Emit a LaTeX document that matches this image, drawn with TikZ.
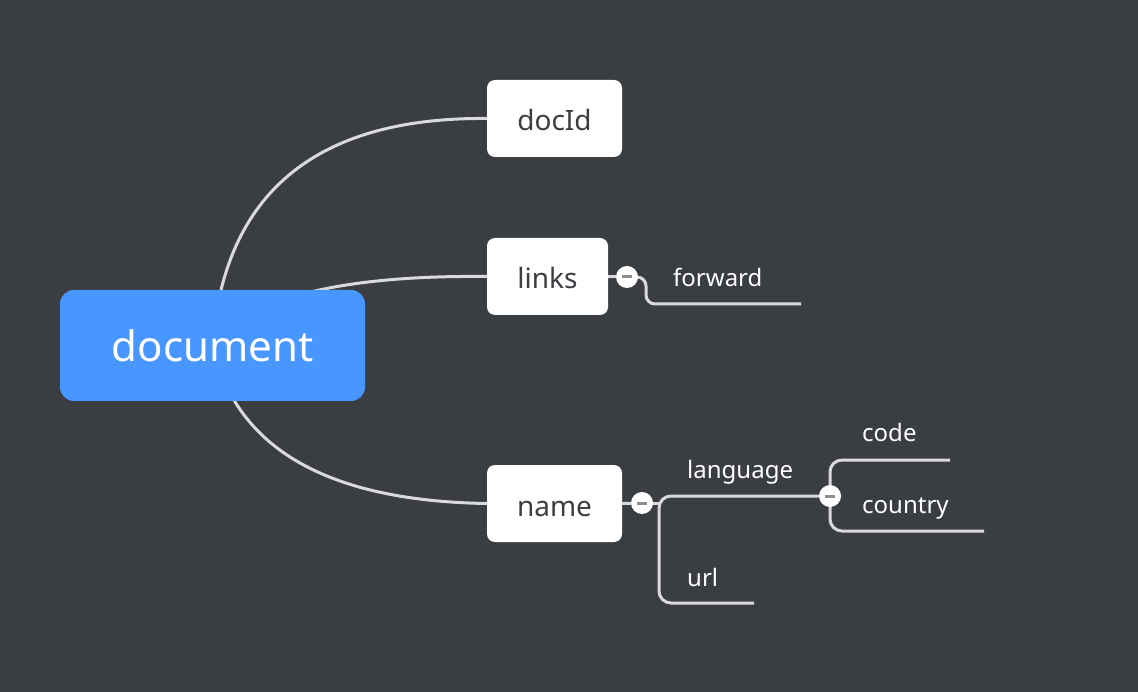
\documentclass[tikz,border=0pt]{standalone}
\usepackage{fontspec}
\setmainfont{Noto Sans}
\usepackage{tikz}
\usetikzlibrary{positioning}
\pgfdeclarelayer{back}
\pgfsetlayers{back,main}
\definecolor{canvas}{RGB}{58,61,66}
\definecolor{rootblue}{RGB}{72,150,255}
\definecolor{wirecol}{RGB}{218,218,218}
\definecolor{boxtext}{RGB}{59,62,67}
\definecolor{foldbar}{RGB}{140,140,140}

\begin{document}
\begin{tikzpicture}[x=1pt,y=-1pt,
    root/.style={fill=rootblue,rounded corners=14pt,minimum width=305pt,minimum height=111pt,
      inner sep=0pt,text height=33pt,text depth=0pt,text=white,font=\fontsize{42}{50}\selectfont},
    topic/.style={fill=white,rounded corners=8pt,minimum height=77pt,inner sep=0pt,
      text height=25pt,text depth=0pt,text=boxtext,font=\fontsize{28}{34}\selectfont},
    leaf/.style={anchor=base west,inner sep=0pt,text=white,font=\fontsize{24}{29}\selectfont},
    wire/.style={draw=wirecol,line width=3pt},
    fold/.style={circle,fill=white,minimum size=22pt,inner sep=0pt}]
    \useasboundingbox (0,0) rectangle (1138,692);
    % topics
    \node[root] (document) at (212.5,345.5) {document};
    \node[topic,minimum width=135pt] (docId) at (554.5,118.5) {docId};
    \node[topic,minimum width=121pt] (links) at (547.5,276.5) {links};
    \node[topic,minimum width=135pt] (name) at (554.5,503.5) {name};
    % folding markers
    \node[fold] (linksfold) at (627,277) {\color{foldbar}\rule[-1.5pt]{10pt}{3pt}};
    \node[fold] (namefold) at (642,503) {\color{foldbar}\rule[-1.5pt]{10pt}{3pt}};
    \node[fold] (langfold) at (830,496) {\color{foldbar}\rule[-1.5pt]{10pt}{3pt}};
    % sub topics
    \node[leaf] (forward) at (673,287) {forward};
    \node[leaf] (language) at (687,478) {language};
    \node[leaf] (url) at (687,586) {url};
    \node[leaf] (code) at (862,442) {code};
    \node[leaf] (country) at (862,513) {country};
    \coordinate (forwardend) at (801,304);
    \coordinate (namejoint) at (659,503);
    \coordinate (urlcorner) at (659,603);
    \coordinate (urlend) at (754,603);
    \coordinate (codeend) at (950,460);
    \coordinate (countryend) at (984,531);
    \begin{pgfonlayer}{back}
      \fill[canvas] (0,0) rectangle (1138,692);
      \draw[wire] (document.center) .. controls (224,193) and (316,117) .. (docId.west);
      \draw[wire] (document.center) .. controls (247,299) and (338,275) .. (links.west);
      \draw[wire] (document.center) .. controls (236,449) and (328,501) .. (name.west);
      \draw[wire] (links.east) -- (linksfold);
      \draw[wire,rounded corners=9pt] (linksfold.east) -- (646,277) |- (forwardend);
      \draw[wire] (name.east) -- (namefold);
      \draw[wire] (namefold) -- (namejoint);
      \draw[wire,rounded corners=12pt] (langfold.west) -| (urlcorner) -- (urlend);
      \draw[wire,rounded corners=12pt] (codeend) -| (langfold.center) |- (countryend);
    \end{pgfonlayer}
\end{tikzpicture}
\end{document}
